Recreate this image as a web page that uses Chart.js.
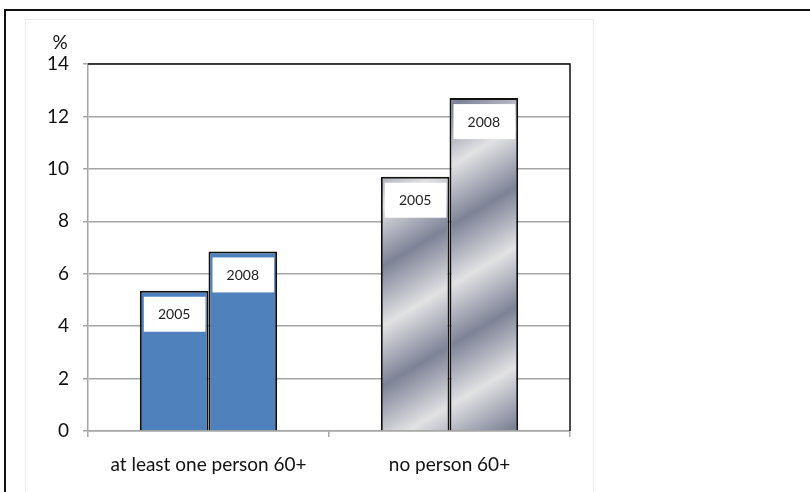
<!DOCTYPE html>
<html>
<head>
<meta charset="utf-8">
<script src="https://cdn.jsdelivr.net/npm/chart.js@4"></script>
<style>
  html, body { margin: 0; padding: 0; background: #fff; }
  #wrap { position: relative; width: 810px; height: 492px; overflow: hidden; }
  #topline { position: absolute; left: 4px; top: 9px; width: 806px; height: 2px; background: #111; }
  #leftline { position: absolute; left: 4px; top: 9px; width: 2px; height: 483px; background: #111; }
  #inner { position: absolute; left: 25px; top: 19px; width: 567px; height: 480px; border: 1px solid #ececec; }
  canvas { position: absolute; left: 0; top: 0; }
</style>
</head>
<body>
<div id="wrap">
  <div id="topline"></div>
  <div id="leftline"></div>
  <div id="inner"></div>
  <canvas id="c" width="810" height="492"></canvas>
</div>
<script>
const categories = ["at least one person 60+", "no person 60+"];
const seriesNames = ["2005", "2008"];
const values2005 = [5.35, 9.7];
const values2008 = [6.85, 12.7];
const yTicks = [0, 2, 4, 6, 8, 10, 12, 14];
const yUnit = "%";

const FONT = "Lato, 'Open Sans', sans-serif";

function barFill(ctx) {
  if (ctx.dataIndex === 0) return '#4F81BD';
  const chart = ctx.chart;
  const a = chart.chartArea;
  if (!a) return '#a4a7b4';
  const g = chart.ctx;
  const nx = 0.51, ny = 0.86;
  const ox = a.left + 327, oy = a.top + 183;
  const R = 500;
  const grad = g.createLinearGradient(ox - R * nx, oy - R * ny, ox + R * nx, oy + R * ny);
  const T = 103;
  for (let k = -20; k <= 20; k++) {
    const d = k * T / 2;
    if (d < -R || d > R) continue;
    const t = (d + R) / (2 * R);
    grad.addColorStop(t, (k % 2 === 0) ? '#7d8296' : '#e2e2e4');
  }
  return grad;
}

const framePlugin = {
  id: 'frame',
  afterDraw(chart) {
    const c = chart.ctx, a = chart.chartArea;
    c.save();
    c.strokeStyle = '#111';
    c.lineWidth = 1.5;
    c.beginPath();
    c.moveTo(a.left, a.top);
    c.lineTo(a.right, a.top);
    c.lineTo(a.right, a.bottom);
    c.stroke();
    c.fillStyle = '#111';
    c.font = '19px ' + FONT;
    c.textAlign = 'center';
    c.textBaseline = 'middle';
    c.fillText(yUnit, a.left - 28, a.top - 21);
    c.restore();
  }
};

const labelPlugin = {
  id: 'boxLabels',
  afterDatasetsDraw(chart) {
    const c = chart.ctx;
    c.save();
    chart.data.datasets.forEach((ds, di) => {
      const meta = chart.getDatasetMeta(di);
      meta.data.forEach((el) => {
        const w = el.width;
        const bx = el.x - w / 2 + 4;
        const by = el.y + 6;
        c.fillStyle = '#ffffff';
        c.fillRect(bx, by, w - 7, 35);
        c.fillStyle = '#222';
        c.font = '14px ' + FONT;
        c.textAlign = 'center';
        c.textBaseline = 'middle';
        c.fillText(ds.label, el.x, by + 18);
      });
    });
    c.restore();
  }
};

new Chart(document.getElementById('c'), {
  type: 'bar',
  data: {
    labels: categories,
    datasets: [
      { label: seriesNames[0], data: values2005, backgroundColor: barFill, borderColor: '#111', borderWidth: 2 },
      { label: seriesNames[1], data: values2008, backgroundColor: barFill, borderColor: '#111', borderWidth: 2 }
    ]
  },
  options: {
    responsive: false,
    animation: false,
    devicePixelRatio: 1,
    layout: { padding: { left: 0, top: 64, right: 240, bottom: 0 } },
    datasets: { bar: { barPercentage: 1.0, categoryPercentage: 0.57 } },
    plugins: { legend: { display: false }, tooltip: { enabled: false } },
    scales: {
      x: {
        grid: { offset: true, drawOnChartArea: false, drawTicks: true, tickLength: 6, color: '#a6a6a6', lineWidth: 1.5 },
        border: { display: true, color: '#a6a6a6', width: 1.5 },
        ticks: { color: '#111', font: { family: FONT, size: 19 }, padding: 16 },
        afterFit(s) { s.height = 61; }
      },
      y: {
        min: 0, max: 14,
        afterBuildTicks(s) { s.ticks = yTicks.map(v => ({ value: v })); },
        grid: { color: '#a6a6a6', lineWidth: 1.5, tickLength: 5 },
        border: { display: true, color: '#a6a6a6', width: 1.5 },
        ticks: { color: '#111', font: { family: FONT, size: 19 }, padding: 14 },
        afterFit(s) { s.width = 88; }
      }
    }
  },
  plugins: [framePlugin, labelPlugin]
});
</script>
</body>
</html>
